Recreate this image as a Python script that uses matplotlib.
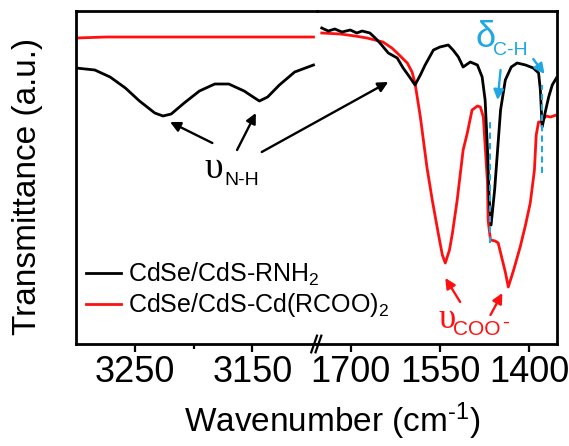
import matplotlib
matplotlib.use('Agg')
import matplotlib.pyplot as plt
from matplotlib.ticker import FixedLocator

plt.rcParams['font.family'] = ['Liberation Sans', 'DejaVu Sans']
plt.rcParams['mathtext.fontset'] = 'custom'
plt.rcParams['mathtext.rm'] = 'Liberation Sans'
plt.rcParams['mathtext.it'] = 'Liberation Sans:italic'
plt.rcParams['mathtext.bf'] = 'Liberation Sans:bold'

# left panel: N-H stretch region (cm-1 vs transmittance, a.u.)
wn_nh_amine = [3300, 3284, 3271, 3258, 3246, 3233, 3226, 3219, 3208, 3195,
               3182, 3170, 3157, 3148, 3144, 3137, 3127, 3114, 3098]
t_nh_amine = [276, 274, 267, 256, 243, 231, 228, 230, 241, 253,
              260, 260, 253, 246, 243, 247, 259, 272, 279]
wn_nh_acid = [3300, 3274, 3098]
t_nh_acid = [306, 307, 307]

# right panel: fingerprint region
wn_fp_amine = [1749, 1738, 1727, 1715, 1701, 1690, 1681, 1668, 1659, 1651,
               1637, 1622, 1612, 1600, 1592, 1583, 1575, 1561, 1550, 1536,
               1528, 1519, 1511, 1499, 1487, 1479, 1474, 1470, 1467, 1464,
               1458, 1453, 1448, 1440, 1430, 1420, 1406, 1393, 1384, 1381,
               1378, 1372, 1367, 1361, 1354]
t_fp_amine = [316, 313, 315, 312, 314, 311, 313, 311, 306, 301,
              291, 286, 276, 266, 259, 269, 279, 294, 297, 299,
              294, 287, 277, 282, 279, 267, 244, 194, 144, 119,
              154, 194, 234, 264, 277, 281, 279, 276, 271, 254,
              217, 234, 247, 259, 266]
wn_fp_acid = [1749, 1718, 1693, 1673, 1646, 1631, 1622, 1605, 1597, 1592,
              1583, 1572, 1563, 1553, 1546, 1541, 1534, 1529, 1521, 1511,
              1504, 1496, 1487, 1482, 1477, 1470, 1469, 1465, 1457, 1452,
              1445, 1440, 1435, 1426, 1415, 1406, 1398, 1391, 1388, 1384,
              1379, 1372, 1364, 1354]
t_fp_acid = [311, 310, 308, 306, 302, 296, 291, 281, 272, 261,
             227, 177, 144, 111, 89, 81, 94, 111, 144, 194,
             211, 234, 238, 237, 227, 161, 124, 104, 103, 101,
             84, 72, 57, 74, 97, 119, 141, 174, 209, 222,
             222, 228, 227, 229]

dch_peaks = [1466, 1378]
dch_ymin = [101, 171]
dch_ymax = [226, 259]

blue = '#1FA8E3'
red = '#FF1010'

W, H = 569, 446
fig = plt.figure(figsize=(W / 100, H / 100), dpi=100)
axL = fig.add_axes([76 / W, 102 / H, 241 / W, 333 / H])
axR = fig.add_axes([317 / W, 102 / H, 240 / W, 333 / H])
axR.patch.set_alpha(0)

l_am, = axL.plot(wn_nh_amine, t_nh_amine, color='black', lw=2.0)
l_ac, = axL.plot(wn_nh_acid, t_nh_acid, color=red, lw=2.0)
axR.plot(wn_fp_acid, t_fp_acid, color=red, lw=2.0)
axR.plot(wn_fp_amine, t_fp_amine, color='black', lw=2.0)
for x, y0, y1 in zip(dch_peaks, dch_ymin, dch_ymax):
    axR.plot([x, x], [y0, y1], color=blue, lw=1.5, ls=(0, (3, 2)), zorder=3)

axL.set_xlim(3300, 3095)
axR.set_xlim(1757, 1353)
for ax in (axL, axR):
    ax.set_ylim(0, 333)
    ax.set_yticks([])
    for s in ax.spines.values():
        s.set_linewidth(2.0)
    ax.tick_params(axis='x', direction='out', length=6, width=1.6,
                   labelsize=26, pad=2)
    ax.tick_params(axis='x', which='minor', direction='out', length=3.5,
                   width=1.6)
axL.spines['right'].set_visible(False)
axR.spines['left'].set_visible(False)
axL.xaxis.set_major_locator(FixedLocator([3250, 3150]))
axL.xaxis.set_minor_locator(FixedLocator([3200]))
axR.xaxis.set_major_locator(FixedLocator([1700, 1550, 1400]))

# break mark on the bottom axis
for dx in (-0.012, 0.006):
    axR.plot([dx - 0.012, dx + 0.012], [-0.025, 0.025], color='black',
             lw=1.6, transform=axR.transAxes, clip_on=False)

# annotations
arrow_k = dict(arrowstyle='-|>', color='black', lw=1.7, mutation_scale=15,
               shrinkA=0, shrinkB=0)
axL.annotate('', xy=(3220, 222), xytext=(3184, 201), arrowprops=arrow_k)
axL.annotate('', xy=(3147, 231), xytext=(3163, 194), arrowprops=arrow_k)
axL.annotate('', xy=(1637, 262), xycoords=axR.transData,
             xytext=(3142, 192), textcoords=axL.transData, arrowprops=arrow_k)
axL.text(3191, 166, '\u03c5', fontsize=27, family=['Liberation Serif', 'DejaVu Serif'],
         ha='left', va='baseline')
axL.text(3174, 159, 'N-H', fontsize=14, ha='left', va='baseline')

arrow_b = dict(arrowstyle='-|>', color=blue, lw=1.7, mutation_scale=15,
               shrinkA=0, shrinkB=0)
axR.annotate('', xy=(1453, 244), xytext=(1448, 274), arrowprops=arrow_b)
axR.annotate('', xy=(1374, 270), xytext=(1393, 285), arrowprops=arrow_b)
axR.text(1491, 297, '\u03b4', fontsize=26, color=blue, ha='left', va='baseline')
axR.text(1460, 289, 'C-H', fontsize=14, color=blue, ha='left', va='baseline')

arrow_r = dict(arrowstyle='-|>', color=red, lw=1.7, mutation_scale=15,
               shrinkA=0, shrinkB=0)
axR.annotate('', xy=(1541, 66), xytext=(1516, 42), arrowprops=arrow_r)
axR.annotate('', xy=(1445, 51), xytext=(1465, 29), arrowprops=arrow_r)
axR.text(1553, 16, '\u03c5', fontsize=25, color=red,
         family=['Liberation Serif', 'DejaVu Serif'], ha='left', va='baseline')
axR.text(1528, 9, 'COO', fontsize=15, color=red, ha='left', va='baseline')
axR.text(1446, 22, '-', fontsize=15, color=red, ha='left', va='center')

fig.legend([l_am, l_ac], ['CdSe/CdS-RNH$_2$', 'CdSe/CdS-Cd(RCOO)$_2$'],
           loc='center left', bbox_to_anchor=(86 / W, 1 - 290 / H),
           frameon=False, fontsize=18, handlelength=1.4, handletextpad=0.3,
           borderpad=0, borderaxespad=0, labelspacing=0.15)

fig.text(28 / W, 1 - 186 / H, 'Transmittance (a.u.)', rotation=90,
         fontsize=24, ha='center', va='center')
fig.text(332 / W, 1 - 421 / H, 'Wavenumber (cm$^{\u2010\\mathrm{1}}$)', fontsize=24,
         ha='center', va='center')

fig.savefig('out.png', dpi=100)
